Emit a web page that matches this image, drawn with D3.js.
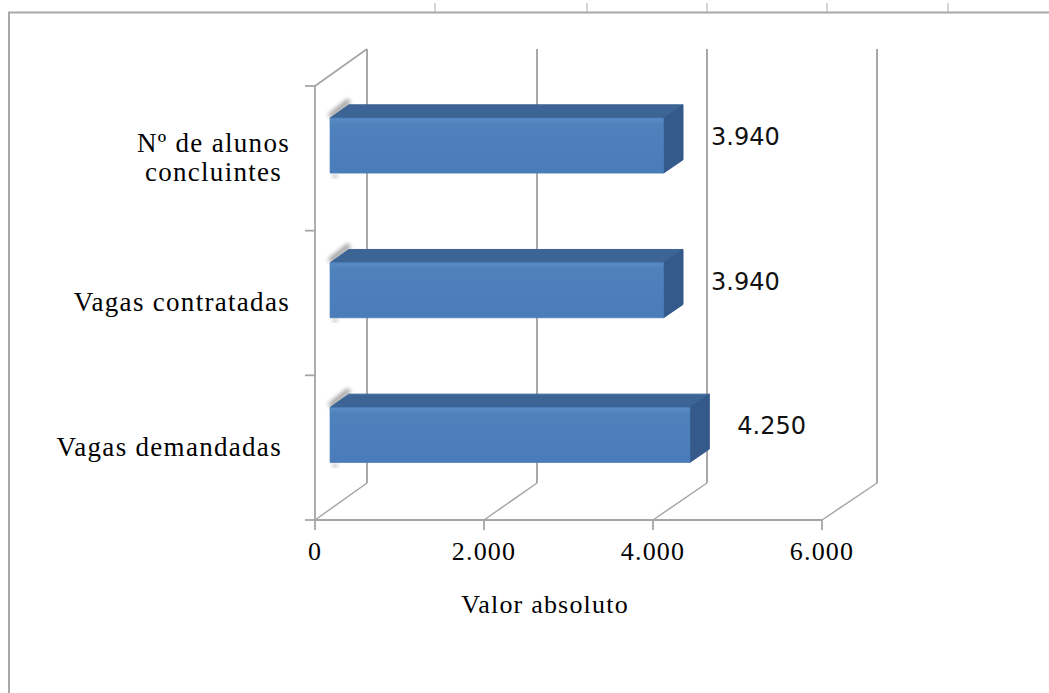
<!DOCTYPE html>
<html lang="pt-br">
<head>
<meta charset="utf-8">
<title>Valor absoluto</title>
<script src="https://d3js.org/d3.v7.min.js"></script>
<style>
  body { margin: 0; background: #fff; }
</style>
</head>
<body>
<script>
// categorias de cima para baixo ("|" quebra a linha)
var categories = ["Nº de alunos|concluintes", "Vagas contratadas", "Vagas demandadas "];
var values = [3940, 3940, 4250];
var valueLabels = ["3.940", "3.940", "4.250"];
var xTicks = [0, 2000, 4000, 6000];
var xTickLabels = ["0", "2.000", "4.000", "6.000"];
var axisTitle = "Valor absoluto";
var frameTicks = [435, 587, 707, 827, 948];

var width = 1049, height = 693;

var svg = d3.select("body").append("svg")
    .attr("width", width)
    .attr("height", height);

var defs = svg.append("defs");
defs.append("filter").attr("id", "blur")
    .attr("x", "-50%").attr("y", "-50%").attr("width", "200%").attr("height", "200%")
  .append("feGaussianBlur").attr("stdDeviation", 2);
var grad = defs.append("linearGradient").attr("id", "front")
    .attr("x1", 0).attr("y1", 0).attr("x2", 0).attr("y2", 1);
grad.append("stop").attr("offset", "0%").attr("stop-color", "#5a8cc8");
grad.append("stop").attr("offset", "12%").attr("stop-color", "#4f81bd");
grad.append("stop").attr("offset", "100%").attr("stop-color", "#4a7cb9");

// moldura externa
svg.selectAll(".ftick").data(frameTicks).join("line")
    .attr("x1", d => d).attr("x2", d => d)
    .attr("y1", 3).attr("y2", 12)
    .attr("stroke", "#d6d6d6").attr("stroke-width", 2);
svg.append("path")
    .attr("d", "M9," + height + "V12.5H" + width)
    .attr("fill", "none").attr("stroke", "#a8a8a8").attr("stroke-width", 2);

// escalas (frente e fundo do grafico 3D)
var xFront = d3.scaleLinear().domain([0, 6000]).range([315, 822]);
var xBack = d3.scaleLinear().domain([0, 6000]).range([367, 877]);
var y = d3.scaleBand().domain(categories).range([86, 520]);
var DY = -37;

function pt(v, yy, z) {
    return [xFront(v) + (xBack(v) - xFront(v)) * z, yy + DY * z];
}
var line = d3.line();

var yTop = y.range()[0], yBot = y.range()[1];

// parede do fundo
svg.selectAll(".grid").data(xTicks).join("line")
    .attr("x1", d => pt(d, yTop, 1)[0]).attr("x2", d => pt(d, yTop, 1)[0])
    .attr("y1", pt(0, yTop, 1)[1]).attr("y2", pt(0, yBot, 1)[1])
    .attr("stroke", "#8c8c8c").attr("stroke-width", 1.5);

// chao
svg.selectAll(".floor").data(xTicks).join("path")
    .attr("d", d => line([pt(d, yBot, 0), pt(d, yBot, 1)]))
    .attr("fill", "none").attr("stroke", "#a6a6a6").attr("stroke-width", 1.5);

// parede lateral
svg.append("path")
    .attr("d", line([pt(0, yBot, 0), pt(0, yTop, 0), pt(0, yTop, 1)]))
    .attr("fill", "none").attr("stroke", "#a6a6a6").attr("stroke-width", 1.8);
svg.append("path")
    .attr("d", line([pt(0, yBot, 0), pt(6000, yBot, 0)]))
    .attr("fill", "none").attr("stroke", "#a6a6a6").attr("stroke-width", 2);

// marcas dos eixos
var yTicks = y.domain().map(d => y(d)).concat([yBot]);
svg.selectAll(".ytick").data(yTicks).join("line")
    .attr("x1", xFront(0) - 10).attr("x2", xFront(0))
    .attr("y1", d => d).attr("y2", d => d)
    .attr("stroke", "#a6a6a6").attr("stroke-width", 1.8);
svg.selectAll(".xtick").data(xTicks).join("line")
    .attr("x1", d => xFront(d)).attr("x2", d => xFront(d))
    .attr("y1", yBot).attr("y2", yBot + 10)
    .attr("stroke", "#a6a6a6").attr("stroke-width", 1.8);

// barras 3D
var z0 = 0.29, z1 = 0.65;
var half = y.bandwidth() * 0.19;
var bars = svg.selectAll(".bar").data(categories.map((c, i) => ({c: c, v: values[i], label: valueLabels[i]})))
    .join("g").attr("class", "bar");

function cy(d) { return y(d.c) + y.bandwidth() / 2 - 2; }

// sombra difusa no canto esquerdo
bars.append("path")
    .attr("d", d => {
        var t = cy(d) - half;
        var a = pt(0, t, z0), b = pt(0, t, z1);
        return line([[a[0] + 1, a[1] - 3], [b[0] - 1, b[1] - 3]]);
    })
    .attr("fill", "none").attr("stroke", "#8a8a8a").attr("stroke-width", 5)
    .attr("stroke-linecap", "round")
    .attr("filter", "url(#blur)").attr("opacity", 0.85);
bars.append("path")
    .attr("d", d => {
        var b = pt(0, cy(d) + half, z0);
        return line([[b[0] + 3, b[1] + 2], [b[0] + 7, b[1] + 4]]);
    })
    .attr("fill", "none").attr("stroke", "#9a9a9a").attr("stroke-width", 4)
    .attr("filter", "url(#blur)").attr("opacity", 0.7);

bars.append("path")
    .attr("d", d => {
        var t = cy(d) - half;
        return line([pt(0, t, z0), pt(d.v, t, z0), pt(d.v, t, z1), pt(0, t, z1)]) + "Z";
    })
    .attr("fill", "#3c6494").attr("stroke", "#3c6494").attr("stroke-linejoin", "round");

bars.append("path")
    .attr("d", d => {
        var t = cy(d) - half, b = cy(d) + half;
        return line([pt(d.v, t, z0), pt(d.v, t, z1), pt(d.v, b, z1), pt(d.v, b, z0)]) + "Z";
    })
    .attr("fill", "#34598a").attr("stroke", "#34598a").attr("stroke-linejoin", "round");

bars.append("path")
    .attr("d", d => {
        var t = cy(d) - half, b = cy(d) + half;
        return line([pt(0, t, z0), pt(d.v, t, z0), pt(d.v, b, z0), pt(0, b, z0)]) + "Z";
    })
    .attr("fill", "url(#front)").attr("stroke", "#4a7cb9").attr("stroke-width", 0.8);

// rotulos de valor
bars.append("text")
    .attr("x", d => pt(d.v, cy(d), z1)[0] + 28)
    .attr("y", d => pt(d.v, cy(d), 0.5)[1] + 7)
    .attr("font-family", "DejaVu Sans")
    .attr("font-size", 24)
    .attr("fill", "#111")
    .text(d => d.label);

// rotulos de categoria
var catLabels = svg.selectAll(".cat").data(categories).join("text")
    .attr("class", "cat")
    .attr("font-family", "Liberation Serif")
    .attr("font-size", 27)
    .attr("letter-spacing", 1.3)
    .attr("fill", "#000")
    .attr("text-anchor", "middle")
    .style("white-space", "pre");

catLabels.each(function(d) {
    var lines = d.split("|");
    var t = d3.select(this);
    var mid = y(d) + y.bandwidth() / 2;
    var spans = lines.map((l, i) => t.append("tspan")
        .attr("y", mid + 8 + (i - (lines.length - 1) / 2) * 29)
        .text(l));
    var w = d3.max(spans, s => s.node().getComputedTextLength());
    spans.forEach(s => s.attr("x", 290 - w / 2));
});

// rotulos do eixo x
svg.selectAll(".xlab").data(xTicks).join("text")
    .attr("x", d => xFront(d))
    .attr("y", yBot + 40)
    .attr("text-anchor", "middle")
    .attr("font-family", "Liberation Serif")
    .attr("font-size", 26)
    .attr("letter-spacing", 1.2)
    .text((d, i) => xTickLabels[i]);

svg.append("text")
    .attr("x", 545)
    .attr("y", yBot + 93)
    .attr("text-anchor", "middle")
    .attr("font-family", "Liberation Serif")
    .attr("font-size", 26)
    .attr("letter-spacing", 1.2)
    .text(axisTitle);
</script>
</body>
</html>
